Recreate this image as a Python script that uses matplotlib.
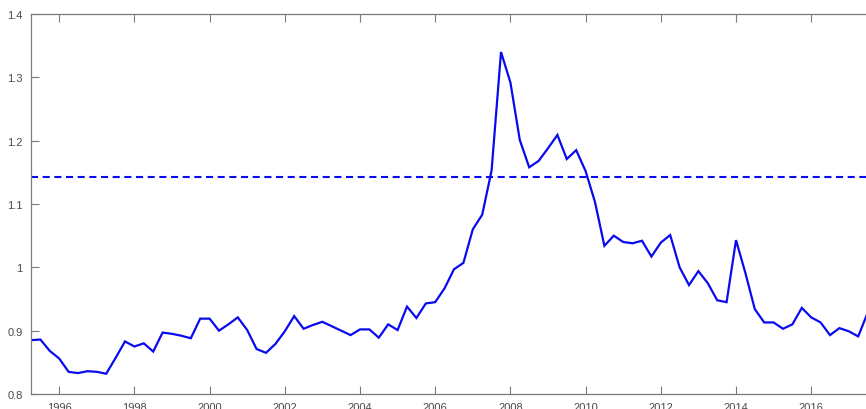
import numpy as np
import matplotlib
matplotlib.use("Agg")
import matplotlib.pyplot as plt
from matplotlib.ticker import FuncFormatter

# Quarterly series starting 1995 Q2 (1995.25), step 0.25 years
start_year = 1995.25
values = [
    0.885, 0.886, 0.868, 0.856, 0.835, 0.833, 0.836, 0.835,
    0.832, 0.857, 0.883, 0.875, 0.880, 0.867, 0.897, 0.895,
    0.892, 0.888, 0.919, 0.919, 0.900, 0.910, 0.921, 0.901,
    0.871, 0.865, 0.879, 0.899, 0.923, 0.903, 0.909, 0.914,
    0.907, 0.900, 0.893, 0.902, 0.902, 0.889, 0.910, 0.901,
    0.938, 0.920, 0.943, 0.945, 0.967, 0.997, 1.007, 1.060,
    1.083, 1.153, 1.340, 1.292, 1.201, 1.158, 1.168, 1.188,
    1.209, 1.171, 1.185, 1.152, 1.103, 1.034, 1.050, 1.040,
    1.038, 1.042, 1.017, 1.039, 1.051, 1.000, 0.972, 0.994,
    0.975, 0.948, 0.945, 1.043, 0.991, 0.934, 0.913, 0.913,
    0.903, 0.910, 0.936, 0.921, 0.913, 0.893, 0.904, 0.899,
    0.891, 0.928,
]
dates = start_year + 0.25 * np.arange(len(values))

threshold = 1.142

x_ticks = [1996, 1998, 2000, 2002, 2004, 2006, 2008, 2010, 2012, 2014, 2016]
y_ticks = [0.8, 0.9, 1.0, 1.1, 1.2, 1.3, 1.4]

W, H = 866, 410
fig = plt.figure(figsize=(W / 100, H / 100), dpi=100)
plt.rcParams["font.family"] = ["Liberation Sans", "DejaVu Sans"]

left_px, right_px, top_px, bottom_px = 31, 866, 15, 395
ax = fig.add_axes([left_px / W, (H - bottom_px) / H,
                   (right_px - left_px) / W, (bottom_px - top_px) / H])

px_per_year = 37.6
x0 = start_year
x1 = x0 + (right_px - left_px) / px_per_year
ax.set_xlim(x0, x1)
ax.set_ylim(0.8, 1.4)

line_blue = "#0a0af0"
ax.plot(dates, values, color=line_blue, linewidth=1.6, solid_joinstyle="miter")
ax.axhline(threshold, color=line_blue, linewidth=1.5, dashes=(3.4, 2.2))

ax.set_xticks(x_ticks)
ax.set_yticks(y_ticks)
ax.yaxis.set_major_formatter(FuncFormatter(lambda v, p: f"{v:g}"))

spine_col = "#7a7a7a"
text_col = "#4a4a4a"
for name, sp in ax.spines.items():
    sp.set_color(spine_col)
    sp.set_linewidth(0.9)
ax.spines["right"].set_visible(False)

ax.tick_params(axis="both", direction="in", length=5.5, width=0.8,
               color=spine_col, labelcolor=text_col, labelsize=8)
ax.tick_params(axis="x", top=True, pad=6)
ax.tick_params(axis="y", right=False, pad=6)

fig.savefig("out.png", dpi=100, facecolor="white")
